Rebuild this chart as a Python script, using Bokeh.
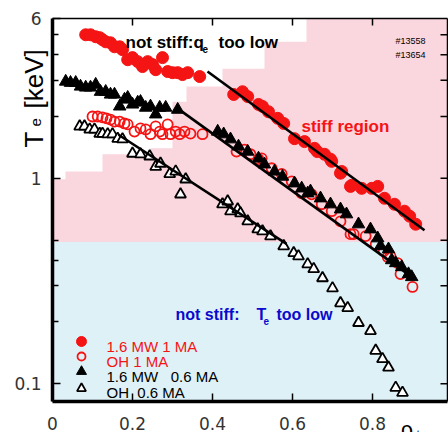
import math
from bokeh.plotting import figure
from bokeh.models import Label, FixedTicker, CustomJSTickFormatter
from bokeh.embed import file_html
from bokeh.resources import INLINE

# ---------------- data ----------------
# 1.6 MW, 1 MA (filled red circles)
red_filled_x = [0.083, 0.095, 0.108, 0.118, 0.125, 0.133, 0.145, 0.155, 0.168, 0.175,
                0.188, 0.200, 0.213, 0.225, 0.238, 0.250, 0.258, 0.275, 0.288, 0.300,
                0.313, 0.325, 0.338, 0.368, 0.453, 0.475, 0.488, 0.515, 0.525, 0.540,
                0.563, 0.578, 0.605, 0.630, 0.655, 0.662, 0.680, 0.695, 0.698, 0.720,
                0.723, 0.745, 0.748, 0.773, 0.798, 0.813, 0.830, 0.855, 0.880, 0.893,
                0.908]
red_filled_te = [5.00, 5.00, 4.89, 4.84, 4.73, 4.62, 4.57, 4.37, 4.37, 4.23,
                 3.78, 3.87, 3.70, 3.50, 3.70, 3.58, 3.38, 3.87, 3.31, 3.27,
                 3.27, 3.20, 3.27, 3.13, 2.56, 2.64, 2.50, 2.29, 2.24, 2.11,
                 1.96, 1.85, 1.56, 1.51, 1.40, 1.35, 1.31, 1.24, 1.21, 1.06,
                 1.08, 0.914, 0.925, 0.894, 0.894, 0.914, 0.80, 0.748, 0.692, 0.654,
                 0.598]

# OH, 1 MA (open red circles)
red_open_x = [0.100, 0.113, 0.125, 0.135, 0.145, 0.155, 0.168, 0.180, 0.188, 0.205,
              0.220, 0.233, 0.245, 0.258, 0.268, 0.275, 0.288, 0.295, 0.308, 0.318,
              0.330, 0.345, 0.375, 0.460, 0.480, 0.495, 0.515, 0.523, 0.548, 0.573,
              0.598, 0.623, 0.648, 0.673, 0.698, 0.720, 0.745, 0.753, 0.783, 0.808,
              0.828, 0.838, 0.845, 0.863, 0.870, 0.900]
red_open_te = [2.00, 2.00, 1.98, 1.96, 1.93, 1.89, 1.89, 1.85, 1.83, 1.69,
               1.75, 1.73, 1.64, 1.79, 1.69, 1.64, 1.83, 1.64, 1.69, 1.64,
               1.69, 1.65, 1.64, 1.35, 1.38, 1.31, 1.24, 1.25, 1.12, 1.05,
               0.967, 0.846, 0.836, 0.748, 0.692, 0.618, 0.535, 0.535, 0.523, 0.478,
               0.442, 0.414, 0.418, 0.387, 0.342, 0.296]

# 1.6 MW, 0.6 MA (filled black triangles)
tri_filled_x = [0.033, 0.045, 0.058, 0.070, 0.083, 0.095, 0.108, 0.120, 0.133, 0.145,
                0.155, 0.168, 0.180, 0.188, 0.200, 0.213, 0.220, 0.233, 0.245, 0.258,
                0.268, 0.283, 0.313, 0.413, 0.428, 0.445, 0.465, 0.488, 0.515, 0.530,
                0.555, 0.575, 0.605, 0.623, 0.638, 0.645, 0.670, 0.695, 0.720, 0.735,
                0.765, 0.795, 0.813, 0.820, 0.840, 0.848, 0.858, 0.873, 0.890, 0.898]
tri_filled_te = [2.96, 2.92, 2.92, 2.80, 2.77, 2.77, 2.86, 2.64, 2.64, 2.56,
                 2.56, 2.24, 2.42, 2.47, 2.29, 2.34, 2.36, 2.21, 2.24, 2.05,
                 2.21, 2.21, 2.16, 1.69, 1.64, 1.55, 1.43, 1.35, 1.25, 1.17,
                 1.08, 1.02, 0.946, 0.894, 0.846, 0.865, 0.80, 0.748, 0.707, 0.669,
                 0.598, 0.565, 0.511, 0.468, 0.452, 0.400, 0.387, 0.370, 0.342, 0.331]

# OH, 0.6 MA (open black triangles)
tri_open_x = [0.068, 0.080, 0.093, 0.105, 0.118, 0.125, 0.138, 0.150, 0.163, 0.175,
              0.200, 0.220, 0.243, 0.258, 0.270, 0.293, 0.308, 0.333, 0.320, 0.425,
              0.438, 0.445, 0.463, 0.470, 0.488, 0.513, 0.525, 0.545, 0.578, 0.603,
              0.615, 0.638, 0.653, 0.675, 0.700, 0.720, 0.738, 0.765, 0.795, 0.808,
              0.825, 0.840, 0.858, 0.875]
tri_open_te = [1.79, 1.79, 1.73, 1.73, 1.65, 1.65, 1.64, 1.64, 1.56, 1.55,
               1.32, 1.31, 1.28, 1.14, 1.18, 1.05, 1.08, 0.989, 0.836, 0.748,
               0.773, 0.692, 0.707, 0.676, 0.618, 0.565, 0.553, 0.523, 0.468, 0.433,
               0.418, 0.382, 0.362, 0.327, 0.292, 0.247, 0.234, 0.198, 0.181, 0.145,
               0.132, 0.120, 0.0957, 0.0905]

# fitted "stiff" lines
fit_red_x = [0.3875, 0.93]
fit_red_te = [3.31, 0.559]
fit_tri_x = [0.3125, 0.9025]
fit_tri_te = [2.19, 0.327]
fit_open_x = [0.165, 0.585]
fit_open_te = [1.63, 0.48]

# regions
te_split = 0.49          # below: "not stiff: Te too low"
q_low_x = [0, 0.635, 0.635, 0.53, 0.53, 0.425, 0.425, 0.335, 0.335, 0.30, 0.30,
           0.245, 0.245, 0.125, 0.125, 0.0325, 0.0325, 0]
q_low_te = [6.0, 6.0, 4.62, 4.62, 3.42, 3.42, 2.80, 2.80, 2.36, 2.36, 1.40,
            1.40, 1.31, 1.31, 1.08, 1.08, 0.989, 0.989]

x_ticks = [0, 0.2, 0.4, 0.6, 0.8, 1.0]
y_ticks = [0.1, 1, 6]
y_minor = [0.2, 0.3, 0.4, 0.5, 2, 3, 4, 5]

# axis box (data limits of the plotting box)
X_START, X_END = 0.0, 0.9875
Y_START, Y_END = 0.082, 6.0

# ---------------- layout: the frame spans the whole canvas ----------------
W, H = 448, 432
BOX_L, BOX_R, BOX_T, BOX_B = 52, 447, 18, 401
DX = (X_END - X_START) / (BOX_R - BOX_L)                       # data per px
DL = (math.log10(Y_END) - math.log10(Y_START)) / (BOX_B - BOX_T)  # decades per px
CX0 = X_START - BOX_L * DX
CX1 = X_END + (W - BOX_R) * DX
CY0 = 10 ** (math.log10(Y_START) - (H - BOX_B) * DL)
CY1 = 10 ** (math.log10(Y_END) + BOX_T * DL)


def X(px):
    return CX0 + px * DX


def Y(py):
    return 10 ** (math.log10(CY1) - py * DL)


p = figure(width=W, height=H, x_range=(CX0, CX1), y_range=(CY0, CY1),
           y_axis_type="log", output_backend="svg", toolbar_location=None,
           min_border_left=0, min_border_right=0, min_border_top=0,
           min_border_bottom=0)
p.grid.visible = False
p.outline_line_color = None
p.background_fill_color = "white"
p.border_fill_color = "white"

# regions
PINK = "#fad6df"
BLUE = "#def1f7"
p.quad(left=[X_START], right=[X_END], bottom=[te_split], top=[Y_END],
       fill_color=PINK, line_color=None)
p.quad(left=[X_START], right=[X_END], bottom=[Y_START], top=[te_split],
       fill_color=BLUE, line_color=None)
p.patch(q_low_x, q_low_te, fill_color="white", line_color=None)

RED = "#f51414"
p.scatter(red_filled_x, red_filled_te, marker="circle", size=12,
          fill_color=RED, line_color=RED)
p.scatter(red_open_x, red_open_te, marker="circle", size=10,
          fill_color=None, line_color=RED, line_width=1.8)
p.scatter(tri_filled_x, tri_filled_te, marker="triangle", size=12.5,
          fill_color="black", line_color="black")
p.scatter(tri_open_x, tri_open_te, marker="triangle", size=11,
          fill_color="white", line_color="black", line_width=1.8)

for xs, ys in [(fit_red_x, fit_red_te), (fit_tri_x, fit_tri_te), (fit_open_x, fit_open_te)]:
    p.line(xs, ys, line_color="black", line_width=2.6)

# box edges: thin top / right, thick left / bottom
p.segment(x0=[X_START, X_END], x1=[X_END, X_END], y0=[Y_END, Y_START], y1=[Y_END, Y_END],
          line_color="black", line_width=1.5)
p.segment(x0=[X_START, X_START], x1=[X_START, X_END], y0=[Y_START, Y_START],
          y1=[Y_END, Y_START], line_color="black", line_width=3.5)

# mirrored ticks on top and right box edges
tick_dx = 7 * DX
right_ticks = [t for t in y_ticks + y_minor if Y_START < t < Y_END]
p.segment(x0=[X_END] * len(right_ticks), x1=[X_END - tick_dx] * len(right_ticks),
          y0=right_ticks, y1=right_ticks, line_color="black", line_width=1.5)
top_ticks = [t for t in x_ticks if X_START < t < X_END]
p.segment(x0=top_ticks, x1=top_ticks, y0=[Y_END] * len(top_ticks),
          y1=[Y(BOX_T + 7)] * len(top_ticks), line_color="black", line_width=1.5)

fmt = CustomJSTickFormatter(code="return tick.toString();")
TICK_FONT = "DejaVu Sans"

xa = p.xaxis[0]
xa.ticker = FixedTicker(ticks=x_ticks)
xa.fixed_location = Y_START
ya = p.yaxis[0]
ya.ticker = FixedTicker(ticks=y_ticks, minor_ticks=y_minor)
ya.fixed_location = X_START
for ax in (xa, ya):
    ax.formatter = fmt
    ax.axis_line_color = None
    ax.major_tick_in = 8
    ax.major_tick_out = 0
    ax.minor_tick_in = 6
    ax.minor_tick_out = 0
    ax.major_tick_line_width = 1.5
    ax.minor_tick_line_width = 1.5
    ax.major_label_text_font = TICK_FONT
    ax.major_label_text_font_size = "17px"
    ax.major_label_text_color = "#333333"
xa.major_label_standoff = 15
ya.major_label_standoff = 11

FONT = "Liberation Sans"


def lab(px, py, text, size, color="black", style="normal", angle=0.0, font=FONT):
    p.add_layout(Label(x=X(px), y=Y(py), text=text, text_font=font,
                       text_font_size=f"{size}px", text_color=color,
                       text_font_style=style, angle=angle,
                       text_align="left", text_baseline="alphabetic"))


NB = "\u00a0"
# region annotations
lab(125, 42, "not stiff:q", 17, style="bold")
lab(202, 48, "e", 10, style="bold")
lab(218, 42, "too low", 17, style="bold")
lab(301, 126, "stiff region", 17, color=RED, style="bold")
BLUE_T = "#0a0acc"
lab(175, 314, "not stiff:", 16, color=BLUE_T, style="bold")
lab(256, 314, "T", 16, color=BLUE_T, style="bold")
lab(263, 320, "e", 10, color=BLUE_T, style="bold")
lab(276, 314, "too low", 16, color=BLUE_T, style="bold")
lab(395, 40, "#13558", 9)
lab(395, 54, "#13654", 9)

# legend
leg_marker_x = X(81)
p.scatter([leg_marker_x], [Y(341)], marker="circle", size=10, fill_color=RED, line_color=RED)
p.scatter([leg_marker_x], [Y(356)], marker="circle", size=8, fill_color=None,
          line_color=RED, line_width=1.8)
p.scatter([leg_marker_x], [Y(371)], marker="triangle", size=10, fill_color="black",
          line_color="black")
p.scatter([leg_marker_x], [Y(388)], marker="triangle", size=9, fill_color="white",
          line_color="black", line_width=1.8)
lab(106, 346, "1.6 MW 1 MA", 15, color=RED)
lab(106, 361, "OH 1 MA", 15, color=RED)
lab(106, 376, f"1.6 MW{NB}{NB}{NB}0.6 MA", 15)
lab(106, 392, f"OH{NB}{NB}0.6 MA", 15)

# axis titles
lab(33, 147, "T", 26, angle=math.pi / 2)
lab(35, 126, "e", 15, angle=math.pi / 2)
lab(33, 108, "[keV]", 26, angle=math.pi / 2)
lab(400, 429, "ρ", 22)
lab(416, 434, "tor", 12)

open("out.html", "w").write(file_html(p, INLINE))
